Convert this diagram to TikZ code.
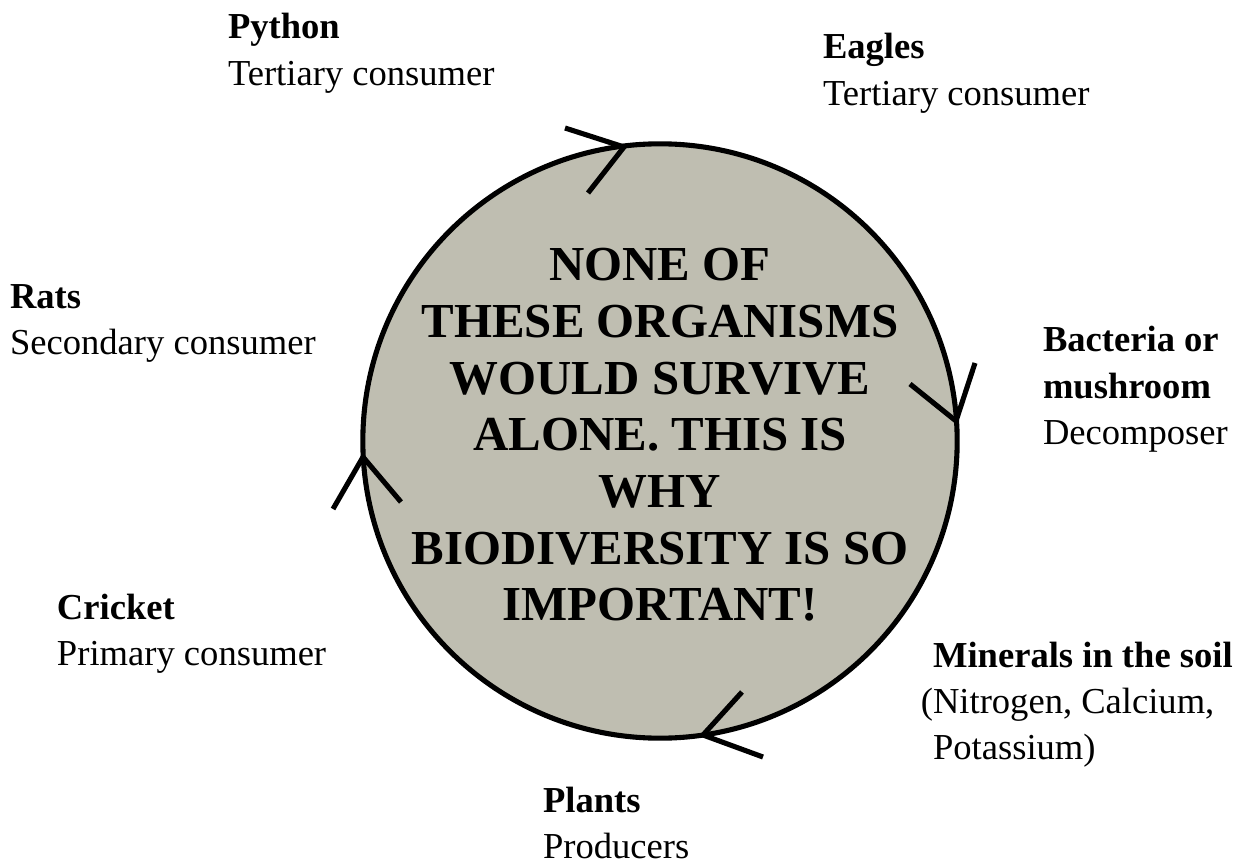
\documentclass[tikz,border=0pt]{standalone}
\usepackage{fontspec}
\setmainfont{Liberation Serif}
\definecolor{discfill}{RGB}{191,190,177}
\newcommand{\lbl}[2]{\begin{tabular}[t]{@{}l@{}}\textbf{#1}\\#2\end{tabular}}
\begin{document}
\begin{tikzpicture}[x=0.01cm,y=-0.01cm,
  label text/.style={anchor=base west,inner sep=0pt,outer sep=0pt,font=\fontsize{10.4pt}{13.1pt}\selectfont},
  chev/.style={line width=1.45pt},
  disc/.style={draw=black,fill=discfill,line width=1.45pt}]
\useasboundingbox (0,0) rectangle (1246,861);
% central disc
\coordinate (c) at (660,441);
\draw[disc] (c) circle[radius=2.97cm];
\node[inner sep=0pt,align=center,anchor=base,font=\fontsize{13.9pt}{16.1pt}\selectfont\bfseries] (msg) at (660,281)
  {\begin{tabular}[t]{@{}c@{}}NONE OF\\THESE ORGANISMS\\WOULD SURVIVE\\ALONE. THIS IS\\WHY\\BIODIVERSITY IS SO\\IMPORTANT!\end{tabular}};
% chevrons (clockwise flow)
\coordinate (t1) at (624,147);
\coordinate (a1) at (565,128);
\coordinate (b1) at (588,193);
\draw[chev] (a1) -- (t1) -- (b1);
\coordinate (t2) at (956,421);
\coordinate (a2) at (910,384);
\coordinate (b2) at (975,363);
\draw[chev] (a2) -- (t2) -- (b2);
\coordinate (t3) at (703,735);
\coordinate (a3) at (742,692);
\coordinate (b3) at (763,757);
\draw[chev] (a3) -- (t3) -- (b3);
\coordinate (t4) at (363,457);
\coordinate (a4) at (333,509);
\coordinate (b4) at (401,502);
\draw[chev] (a4) -- (t4) -- (b4);
% labels
\node[label text] (python) at (228,39) {\lbl{Python}{Tertiary consumer}};
\node[label text] (eagles) at (823,59) {\lbl{Eagles}{Tertiary consumer}};
\node[label text] (rats) at (10,308) {\lbl{Rats}{Secondary consumer}};
\node[label text] (bact) at (1043,352) {\begin{tabular}[t]{@{}l@{}}\textbf{Bacteria or}\\\textbf{mushroom}\\Decomposer\end{tabular}};
\node[label text] (cricket) at (57,619) {\lbl{Cricket}{Primary consumer}};
\node[label text] (minerals) at (933,667) {\begin{tabular}[t]{@{}l@{}}\textbf{Minerals in the soil}\\\llap{(}Nitrogen, Calcium,\\Potassium)\end{tabular}};
\node[label text] (plants) at (543,812) {\lbl{Plants}{Producers}};
\end{tikzpicture}
\end{document}
